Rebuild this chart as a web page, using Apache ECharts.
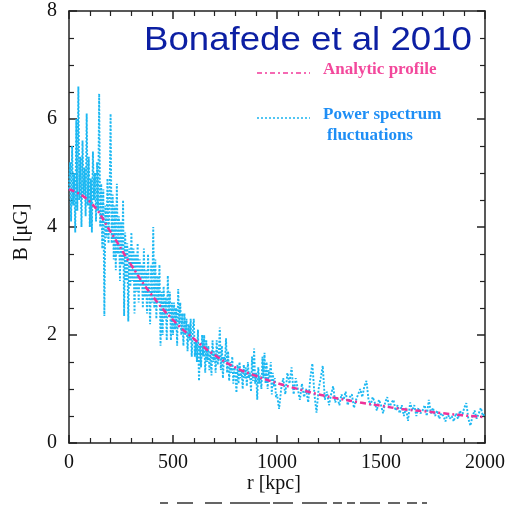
<!DOCTYPE html>
<html>
<head>
<meta charset="utf-8">
<script src="https://cdn.jsdelivr.net/npm/echarts@6/dist/echarts.min.js"></script>
<style>
  html, body { margin: 0; padding: 0; background: #fff; }
  #main { width: 508px; height: 508px; }
</style>
</head>
<body>
<div id="main"></div>
<script>
// 分析轮廓 (每100 kpc)
var profileR = [0, 100, 200, 300, 400, 500, 600, 700, 800, 900, 1000,
  1100, 1200, 1300, 1400, 1500, 1600, 1700, 1800, 1900, 2000];
var profileB = [4.70, 4.47, 3.91, 3.29, 2.73, 2.28, 1.93, 1.63, 1.40, 1.24, 1.11,
  1.00, 0.90, 0.82, 0.75, 0.69, 0.63, 0.59, 0.55, 0.51, 0.48];

// 功率谱涨落: 内区 0-995 kpc 每5 kpc
var innerStep = 5;
var innerB = [
  4.7, 5.2, 4.1, 5.5, 4.4, 5.0, 3.9, 6.0, 4.3, 6.6,
  4.5, 5.3, 4.0, 5.6, 4.6, 5.1, 4.2, 6.1, 4.4, 5.3,
  4.0, 4.9, 3.9, 5.4, 4.5, 5.0, 4.1, 5.2, 4.3, 6.47,
  4.0, 4.8, 3.6, 4.7, 2.35, 4.4, 3.8, 4.9, 3.7, 4.5,
  6.1, 3.7, 4.6, 3.4, 4.4, 3.2, 4.8, 3.5, 4.2, 3.0,
  4.1, 3.3, 4.5, 2.35, 3.9, 3.0, 3.7, 2.25, 3.6, 2.9,
  3.9, 3.0, 3.6, 2.4, 3.5, 2.8, 3.7, 2.6, 3.4, 2.9,
  3.3, 2.5, 3.6, 2.7, 3.2, 2.4, 3.5, 2.8, 2.2, 3.3,
  2.6, 4.0, 2.5, 3.4, 2.3, 3.1, 2.6, 3.3, 1.8, 2.8,
  2.0, 2.9, 2.3, 2.7, 1.9, 3.1, 2.4, 2.8, 1.9, 2.6,
  2.0, 2.6, 2.1, 2.5, 1.8, 2.85, 2.2, 2.6, 2.0, 2.4,
  1.8, 2.4, 2.0, 2.3, 1.7, 2.2, 1.9, 2.3, 1.6, 2.1,
  2.3, 1.6, 1.9, 1.5, 2.1, 1.15, 1.8, 1.4, 2.0, 1.6,
  2.0, 1.3, 1.9, 1.5, 1.8, 1.35, 1.7, 1.25, 1.9, 1.5,
  1.7, 1.3, 1.9, 1.45, 1.6, 2.14, 1.35, 1.8, 1.2, 1.6,
  1.5, 1.94, 1.3, 1.7, 1.15, 1.5, 1.3, 1.6, 1.1, 1.4,
  1.3, 0.93, 1.45, 1.1, 1.5, 1.2, 1.35, 1.0, 1.45, 1.2,
  1.4, 1.05, 1.5, 1.2, 1.3, 0.95, 1.6, 1.15, 1.75, 1.1,
  1.3, 0.8, 1.4, 1.1, 1.25, 1.0, 1.6, 1.2, 1.67, 1.1,
  1.5, 1.0, 1.35, 1.2, 1.5, 0.9, 1.3, 1.05, 1.2, 0.85
];
// 外区 1000-2000 kpc 每10 kpc
var outerStart = 1000;
var outerStep = 10;
var outerB = [
  0.9,
  0.63, 1.0, 1.2, 0.9, 1.3, 1.1, 1.4, 0.9, 1.2, 1.0,
  0.8, 1.1, 0.85, 1.0, 0.75, 1.2, 1.47, 0.9, 0.56, 1.0,
  1.2, 1.43, 0.8, 0.95, 0.7, 0.9, 1.05, 0.75, 0.85, 0.7,
  0.9, 0.8, 0.95, 0.7, 0.85, 0.9, 0.65, 0.8, 0.9, 1.0,
  0.85, 1.05, 1.15, 0.8, 0.7, 0.85, 0.75, 0.6, 0.8, 0.7,
  0.55, 0.75, 0.85, 0.65, 0.75, 0.8, 0.6, 0.7, 0.55, 0.7,
  0.5, 0.65, 0.41, 0.75, 0.6, 0.7, 0.5, 0.65, 0.55, 0.6,
  0.7, 0.5, 0.8, 0.55, 0.65, 0.5, 0.6, 0.45, 0.55, 0.5,
  0.4, 0.55, 0.45, 0.5, 0.4, 0.55, 0.45, 0.6, 0.5, 0.65,
  0.74, 0.45, 0.32, 0.5, 0.6, 0.45, 0.55, 0.65, 0.5, 0.55
];

var xRange = [0, 2000];
var yRange = [0, 8];

var profileData = profileR.map(function (r, i) { return [r, profileB[i]]; });
var flucData = innerB.map(function (b, i) { return [i * innerStep, b]; })
  .concat(outerB.map(function (b, i) { return [outerStart + i * outerStep, b]; }));

var myChart = echarts.init(document.getElementById('main'));

var serif = 'Liberation Serif';

function makeAxis(extra) {
  var ax = {
    type: 'value',
    axisLine: { onZero: false, lineStyle: { color: '#222', width: 1.5 } },
    axisTick: { inside: true, length: 8, lineStyle: { color: '#222', width: 1.5 } },
    minorTick: { show: true, length: 5, lineStyle: { color: '#222', width: 1.2 } },
    splitLine: { show: false }
  };
  for (var k in extra) {
    if (k === 'minorSplit') ax.minorTick.splitNumber = extra[k];
    else ax[k] = extra[k];
  }
  return ax;
}

var option = {
  animation: false,
  grid: { left: 69, right: 22, top: 11, bottom: 65 },
  xAxis: [
    makeAxis({
      position: 'bottom', min: xRange[0], max: xRange[1], interval: 500, minorSplit: 5,
      axisLabel: { fontFamily: serif, fontSize: 20, color: '#111', margin: 10,
        formatter: function (v) { return String(v); } }
    }),
    makeAxis({
      position: 'top', min: xRange[0], max: xRange[1], interval: 500, minorSplit: 5,
      axisLabel: { show: false }
    })
  ],
  yAxis: [
    makeAxis({
      position: 'left', min: yRange[0], max: yRange[1], interval: 2, minorSplit: 4,
      axisLabel: { fontFamily: serif, fontSize: 20, color: '#111', margin: 12 }
    }),
    makeAxis({
      position: 'right', min: yRange[0], max: yRange[1], interval: 2, minorSplit: 4,
      axisLabel: { show: false }
    })
  ],
  series: [
    {
      name: 'Power spectrum fluctuations',
      type: 'line',
      data: flucData,
      showSymbol: false,
      lineStyle: { color: '#1cb8f2', width: 1.9, type: [2, 1.6] }
    },
    {
      name: 'Analytic profile',
      type: 'line',
      data: profileData,
      smooth: true,
      showSymbol: false,
      lineStyle: { color: '#ee3399', width: 2.5, type: [6, 3, 2, 3] }
    }
  ],
  graphic: [
    {
      type: 'text', left: 144, top: 24, scaleX: 1.11,
      style: { text: 'Bonafede et al 2010', font: '33px "Liberation Sans"', fill: '#0c1fa3' }
    },
    {
      type: 'line', shape: { x1: 257, y1: 73, x2: 310, y2: 73 },
      style: { stroke: '#f2399a', lineWidth: 1.5, lineDash: [5, 3, 2, 3] }
    },
    {
      type: 'text', left: 323, top: 61,
      style: { text: 'Analytic profile', font: 'bold 17px "Liberation Serif"', fill: '#f3489c' }
    },
    {
      type: 'line', shape: { x1: 257, y1: 118, x2: 310, y2: 118 },
      style: { stroke: '#18b4f0', lineWidth: 1.5, lineDash: [2, 2] }
    },
    {
      type: 'text', left: 323, top: 106,
      style: { text: 'Power spectrum', font: 'bold 17px "Liberation Serif"', fill: '#1e8ef5' }
    },
    {
      type: 'text', left: 327, top: 127,
      style: { text: 'fluctuations', font: 'bold 17px "Liberation Serif"', fill: '#1e8ef5' }
    },
    {
      type: 'text', left: 247, top: 474,
      style: { text: 'r [kpc]', font: '20px "Liberation Serif"', fill: '#111' }
    },
    {
      type: 'text', x: 22, y: 232, rotation: Math.PI / 2,
      style: { text: 'B [μG]', font: '20px "Liberation Serif"', fill: '#111', align: 'center', verticalAlign: 'middle' }
    },
    {
      type: 'line', shape: { x1: 160, y1: 503, x2: 427, y2: 503 },
      style: {
        stroke: '#333', lineWidth: 1.5,
        lineDash: [8, 9, 16, 12, 17, 8, 40, 3, 20, 9, 25, 6, 9, 5, 8, 5, 20, 8, 12, 7, 10, 5, 5, 20]
      }
    }
  ]
};

myChart.setOption(option);
</script>
</body>
</html>
